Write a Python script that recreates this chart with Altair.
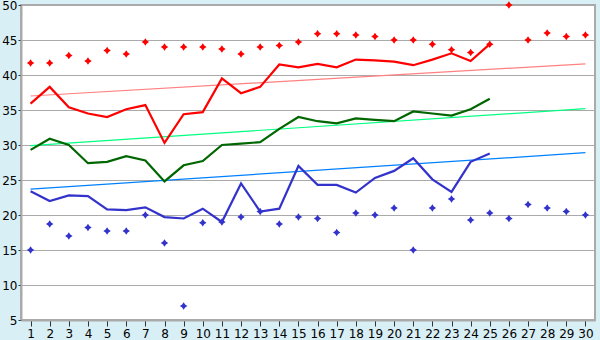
import altair as alt
import pandas as pd

days = list(range(1, 31))
line_days = list(range(1, 26))

red_line = [35.9, 38.3, 35.4, 34.5, 34.0, 35.1, 35.7, 30.3, 34.4, 34.7,
            39.5, 37.4, 38.3, 41.5, 41.1, 41.6, 41.1, 42.2, 42.1, 41.9,
            41.4, 42.2, 43.1, 42.0, 44.4]
green_line = [29.3, 30.9, 30.0, 27.4, 27.6, 28.4, 27.8, 24.8, 27.1, 27.7,
              30.0, 30.2, 30.4, 32.3, 34.0, 33.4, 33.1, 33.8, 33.6, 33.4,
              34.8, 34.5, 34.2, 35.1, 36.6]
blue_line = [23.4, 22.0, 22.8, 22.7, 20.8, 20.7, 21.1, 19.7, 19.5, 20.9,
             19.0, 24.5, 20.5, 20.9, 27.0, 24.3, 24.3, 23.2, 25.3, 26.3,
             28.1, 25.1, 23.3, 27.6, 28.8]

red_points = [41.7, 41.7, 42.8, 42.0, 43.5, 43.0, 44.7, 44.0, 44.0, 44.0,
              43.7, 43.0, 44.0, 44.2, 44.7, 45.9, 45.9, 45.7, 45.5, 45.0,
              45.0, 44.4, 43.6, 43.2, 44.4, 50.0, 45.0, 46.0, 45.5, 45.7]
blue_points = [15.0, 18.7, 17.0, 18.2, 17.7, 17.7, 20.0, 16.0, 7.0, 18.9,
               19.0, 19.7, 20.5, 18.7, 19.7, 19.5, 17.5, 20.3, 20.0, 21.0,
               15.0, 21.0, 22.3, 19.3, 20.3, 19.5, 21.5, 21.0, 20.5, 20.0]

trend_days = [1, 30]
red_trend = [37.0, 41.6]
green_trend = [29.9, 35.2]
blue_trend = [23.7, 28.9]

series_colors = {
    "red": "#ff0000",
    "green": "#006600",
    "blue": "#3333cc",
    "red_trend": "#ff8080",
    "green_trend": "#00ff80",
    "blue_trend": "#0080ff",
}

x_scale = alt.Scale(domain=[0.5, 30.5], nice=False, zero=False)
y_scale = alt.Scale(domain=[5, 50], nice=False, zero=False)

x_axis = alt.Axis(values=days, grid=False, domain=True, domainColor="#aaaaaa",
                  domainWidth=2, tickColor="#333333",
                  tickSize=6, labelFont="DejaVu Sans", labelFontSize=12,
                  labelColor="#000000", labelPadding=2, title=None)
y_axis = alt.Axis(values=list(range(5, 55, 5)), grid=True, gridColor="#aaaaaa",
                  domain=True, domainColor="#aaaaaa", domainWidth=2,
                  tickColor="#333333", tickSize=3, labelFont="DejaVu Sans",
                  labelFontSize=12, labelColor="#000000", labelPadding=1, title=None)

star = "M0,-1L0.4,-0.4L1,0L0.4,0.4L0,1L-0.4,0.4L-1,0L-0.4,-0.4Z"


def enc():
    return dict(
        x=alt.X("x:Q", scale=x_scale, axis=x_axis),
        y=alt.Y("y:Q", scale=y_scale, axis=y_axis),
    )


def line_layer(xs, ys, color, width):
    df = pd.DataFrame({"x": xs, "y": ys})
    return alt.Chart(df).mark_line(color=color, strokeWidth=width, interpolate="linear").encode(**enc())


def point_layer(xs, ys, color):
    df = pd.DataFrame({"x": xs, "y": ys})
    return alt.Chart(df).mark_point(shape=star, filled=True, size=56, color=color, opacity=1).encode(**enc())


chart = alt.layer(
    line_layer(trend_days, red_trend, series_colors["red_trend"], 1.2),
    line_layer(trend_days, green_trend, series_colors["green_trend"], 1.2),
    line_layer(trend_days, blue_trend, series_colors["blue_trend"], 1.2),
    line_layer(line_days, red_line, series_colors["red"], 2.2),
    line_layer(line_days, green_line, series_colors["green"], 2.2),
    line_layer(line_days, blue_line, series_colors["blue"], 2.2),
    point_layer(days, red_points, series_colors["red"]),
    point_layer(days, blue_points, series_colors["blue"]),
).properties(
    width=574,
    height=315,
    background="#d9eff6",
    padding={"left": 21, "top": 5, "right": 5, "bottom": 20},
    autosize=alt.AutoSizeParams(type="none"),
).configure_view(
    fill="#ffffff",
    stroke="#aaaaaa",
    strokeWidth=2,
)

chart.save("out.html", embed_options={"renderer": "svg", "actions": False})
